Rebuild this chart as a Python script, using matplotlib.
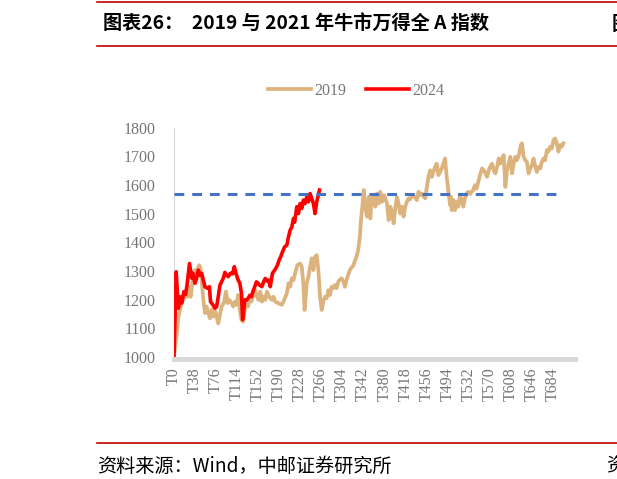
import matplotlib
matplotlib.use('Agg')
import matplotlib.pyplot as plt

# 2019 series (T index, value)
t_2019 = [0, 2, 5, 8, 11, 14, 17, 20, 24, 28, 30, 34, 38, 41, 44, 46, 48, 50, 53, 56,
          59, 62, 65, 68, 71, 75, 80, 83, 86, 90, 94, 97, 100, 104, 107, 110, 113, 116, 119, 122,
          125, 128, 131, 134, 137, 140, 144, 147, 150, 153, 156, 159, 162, 165, 168, 172, 177, 180, 183, 189,
          195, 198, 204, 207, 210, 213, 216, 219, 223, 228, 231, 234, 236, 240, 243, 246, 249, 252, 255, 258,
          261, 264, 267, 270, 273, 276, 279, 282, 285, 288, 291, 294, 297, 300, 303, 306, 309, 312, 315, 318,
          321, 324, 327, 330, 333, 336, 338, 341, 343, 344, 346, 349, 352, 355, 357, 361, 364, 367, 370, 373,
          376, 380, 385, 388, 391, 394, 397, 400, 403, 406, 409, 412, 415, 418, 421, 424, 427, 430, 433, 436,
          439, 442, 445, 448, 451, 454, 457, 460, 463, 466, 469, 472, 475, 478, 481, 484, 487, 490, 493, 496,
          499, 501, 502, 505, 508, 511, 514, 517, 520, 523, 526, 529, 532, 535, 538, 541, 544, 547, 550, 554,
          557, 560, 563, 566, 569, 572, 575, 578, 581, 584, 587, 590, 593, 596, 599, 602, 605, 608, 611, 614,
          617, 620, 623, 627, 629, 632, 635, 638, 641, 644, 647, 650, 653, 656, 659, 662, 665, 668, 671, 674,
          677, 680, 683, 686, 689, 692, 695, 698, 701, 704]
v_2019 = [1000, 1036, 1083, 1140, 1165, 1188, 1200, 1222, 1210, 1245, 1210, 1268, 1303, 1292, 1315, 1320, 1310, 1268, 1199, 1153,
          1176, 1153, 1135, 1165, 1141, 1158, 1117, 1147, 1176, 1188, 1228, 1188, 1199, 1188, 1176, 1193, 1182, 1216, 1165, 1129,
          1123, 1165, 1182, 1176, 1210, 1193, 1220, 1233, 1210, 1199, 1228, 1193, 1210, 1199, 1228, 1210, 1199, 1210, 1193, 1187,
          1182, 1193, 1222, 1257, 1245, 1274, 1268, 1292, 1320, 1326, 1315, 1250, 1164, 1257, 1280, 1315, 1344, 1303, 1350, 1355,
          1303, 1210, 1164, 1193, 1210, 1205, 1233, 1216, 1245, 1240, 1251, 1240, 1262, 1270, 1274, 1265, 1245, 1268, 1288, 1303,
          1312, 1318, 1335, 1350, 1373, 1419, 1477, 1535, 1582, 1558, 1520, 1489, 1558, 1483, 1547, 1564, 1524, 1570, 1535, 1576,
          1541, 1564, 1535, 1477, 1524, 1506, 1466, 1518, 1558, 1535, 1500, 1524, 1489, 1524, 1541, 1553, 1550, 1560, 1564, 1555,
          1547, 1576, 1565, 1570, 1560, 1553, 1590, 1628, 1651, 1628, 1645, 1663, 1674, 1634, 1645, 1657, 1675, 1692, 1628, 1580,
          1530, 1558, 1512, 1547, 1512, 1541, 1524, 1564, 1547, 1524, 1553, 1570, 1576, 1568, 1576, 1582, 1599, 1587, 1610, 1640,
          1657, 1651, 1640, 1628, 1651, 1665, 1674, 1651, 1640, 1663, 1692, 1674, 1692, 1704, 1593, 1651, 1674, 1698, 1640, 1674,
          1698, 1686, 1700, 1739, 1745, 1698, 1686, 1680, 1640, 1657, 1669, 1692, 1663, 1645, 1663, 1657, 1680, 1692, 1686, 1721,
          1716, 1733, 1727, 1756, 1762, 1745, 1716, 1739, 1733, 1745]

# 2024 series (T index, value)
t_2024 = [0, 4, 6, 8, 11, 14, 18, 21, 24, 28, 32, 34, 38, 41, 44, 47, 50, 53, 56, 60,
          64, 66, 70, 74, 77, 80, 83, 86, 89, 92, 94, 98, 102, 106, 109, 112, 116, 119, 122, 124,
          126, 128, 131, 134, 137, 140, 143, 146, 149, 152, 155, 159, 162, 165, 168, 171, 174, 178, 181, 184,
          187, 190, 193, 195, 198, 200, 204, 207, 210, 213, 216, 218, 222, 225, 228, 231, 234, 237, 240, 243,
          246, 249, 252, 255, 258, 261, 263]
v_2024 = [1000, 1297, 1230, 1170, 1210, 1188, 1228, 1218, 1257, 1326, 1275, 1292, 1257, 1275, 1303, 1285, 1292, 1268, 1245, 1240,
          1245, 1193, 1183, 1170, 1175, 1210, 1250, 1262, 1274, 1295, 1288, 1280, 1292, 1290, 1315, 1292, 1268, 1257, 1222, 1130,
          1160, 1199, 1198, 1205, 1215, 1210, 1230, 1245, 1262, 1257, 1250, 1245, 1262, 1274, 1265, 1268, 1245, 1292, 1300, 1309,
          1320, 1338, 1350, 1361, 1375, 1384, 1390, 1419, 1442, 1453, 1483, 1470, 1524, 1500, 1535, 1518, 1547, 1535, 1558, 1541,
          1570, 1553, 1535, 1500, 1541, 1565, 1582]

# reference level (dashed)
ref_level = 1568
ref_t = [0, 704]

tick_pos = list(range(0, 685, 38))
tick_labels = ['T%d' % t for t in tick_pos]

title = '图表26：  2019 与 2021 年牛市万得全 A 指数'
source = '资料来源：Wind，中邮证券研究所'

cjk = ['Noto Sans CJK SC', 'DejaVu Sans']
grey = '#767676'

plt.rcParams['font.family'] = ['Liberation Serif', 'DejaVu Serif']
plt.rcParams['font.size'] = 11.5

fig = plt.figure(figsize=(6.17, 4.79), dpi=100)
ax = fig.add_axes([0.282, 0.2547, 0.650, 0.4791])

ax.plot(t_2019, v_2019, color='#DDB37D', lw=2.7, label='2019', zorder=2)
ax.plot(t_2024, v_2024, color='#FF0000', lw=2.6, label='2024', zorder=3)
ax.plot(ref_t, [ref_level, ref_level], color='#4472C4', lw=2.2,
        dashes=(3.2, 2.6), zorder=4)

ax.set_xlim(0, 725)
ax.set_ylim(1000, 1800)
ax.set_yticks(range(1000, 1801, 100))
ax.set_xticks(tick_pos)
ax.set_xticklabels(tick_labels)

ax.tick_params(axis='y', length=0, pad=13, labelcolor=grey, labelsize=11.5)
ax.tick_params(axis='x', length=0, pad=6, labelrotation=90, labelcolor=grey,
               labelsize=11.5)

for s in ['top', 'right']:
    ax.spines[s].set_visible(False)
ax.spines['left'].set_color('#d9d9d9')
ax.spines['left'].set_linewidth(0.8)
ax.spines['bottom'].set_color('#d9d9d9')
ax.spines['bottom'].set_linewidth(3.6)
ax.spines['bottom'].set_position(('outward', 1.3))

leg = ax.legend(loc='center', bbox_to_anchor=(356 / 617, 1 - 91 / 479),
                bbox_transform=fig.transFigure, ncol=2, frameon=False,
                fontsize=11.5, handlelength=2.7,
                handletextpad=0.2, columnspacing=1.2)
for txt in leg.get_texts():
    txt.set_color(grey)

# header / footer
red = '#C00000'
fig.add_artist(plt.Line2D([97 / 617, 1], [1 - 1.5 / 479] * 2, color=red, lw=1.2))
fig.add_artist(plt.Line2D([97 / 617, 1], [1 - 46 / 479] * 2, color=red, lw=1.2))
fig.add_artist(plt.Line2D([97 / 617, 1], [1 - 443 / 479] * 2, color=red, lw=1.2))
fig.text(103 / 617, 1 - 24 / 479, title, family=cjk, weight='bold', fontsize=13.8,
         va='center', ha='left')
fig.text(612 / 617, 1 - 24 / 479, '图', family=cjk, weight='bold', fontsize=13.8,
         va='center', ha='left')
fig.text(97 / 617, 1 - 466 / 479, source, family=cjk, fontsize=13.8,
         va='center', ha='left')
fig.text(606 / 617, 1 - 466 / 479, '资', family=cjk, fontsize=13.8,
         va='center', ha='left')

fig.savefig('out.png', dpi=100)
